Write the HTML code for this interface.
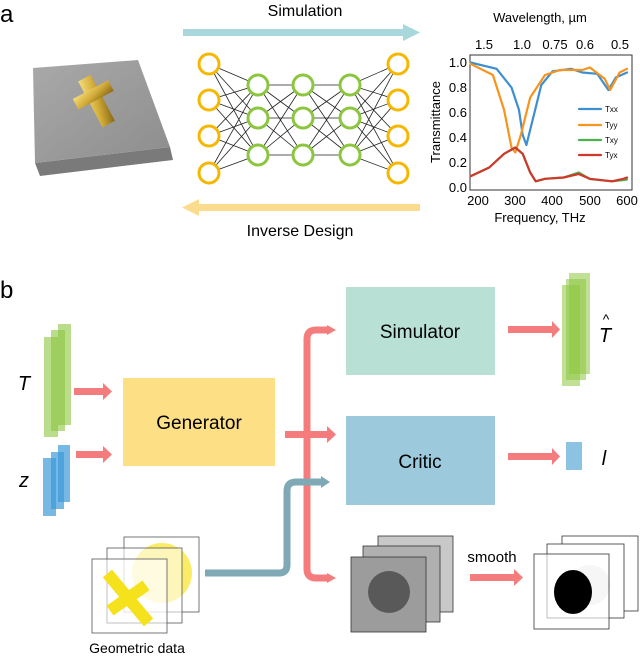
<!DOCTYPE html>
<html><head><meta charset="utf-8"><style>
html,body{margin:0;padding:0;background:#fff;}
body{width:640px;height:659px;overflow:hidden;}
svg text{font-family:"Liberation Sans",sans-serif;}
</style></head><body>
<svg width="640" height="659" viewBox="0 0 640 659" xmlns="http://www.w3.org/2000/svg">
<defs>
<linearGradient id="gold" x1="0" y1="0" x2="1" y2="1"><stop offset="0" stop-color="#f4dc7a"/><stop offset="0.5" stop-color="#d4ad3a"/><stop offset="1" stop-color="#8a6a15"/></linearGradient>
<linearGradient id="top" x1="0" y1="0" x2="1" y2="1"><stop offset="0" stop-color="#a9a9a9"/><stop offset="1" stop-color="#8d8d8d"/></linearGradient>
</defs>
<!-- a -->
<text x="0" y="22" font-size="24">a</text>
<polygon points="35,163 170,147 173,160 40,176" fill="#7a7a7a"/>
<polygon points="33,68 138,60 170,147 35,163" fill="url(#top)"/>
<g transform="translate(97,102) rotate(-28)">
<rect x="-7" y="-27" width="14" height="52" fill="url(#gold)"/>
<rect x="-20" y="-14" width="40" height="12" fill="url(#gold)"/>
</g>
<text x="305" y="16" font-size="16" text-anchor="middle">Simulation</text>
<rect x="183" y="29" width="222" height="7" fill="#a8d8dc"/>
<polygon points="403,24 420,32.5 403,41" fill="#a8d8dc"/>
<rect x="198" y="204" width="222" height="7" fill="#fbdc8e"/>
<polygon points="199,199 182,207.5 199,216" fill="#fbdc8e"/>
<text x="300" y="236" font-size="16" text-anchor="middle">Inverse Design</text>
<g stroke="#222" stroke-width="0.8">
<path d="M209,64L258,85M209,64L258,118M209,64L258,155M209,100L258,85M209,100L258,118M209,100L258,155M209,136L258,85M209,136L258,118M209,136L258,155M209,173L258,85M209,173L258,118M209,173L258,155"/>
<path d="M258,85L303,85M258,85L303,118M258,85L303,155M258,118L303,85M258,118L303,118M258,118L303,155M258,155L303,85M258,155L303,118M258,155L303,155"/>
<path d="M303,85L350,85M303,85L350,118M303,85L350,155M303,118L350,85M303,118L350,118M303,118L350,155M303,155L350,85M303,155L350,118M303,155L350,155"/>
<path d="M398,64L350,85M398,64L350,118M398,64L350,155M398,100L350,85M398,100L350,118M398,100L350,155M398,136L350,85M398,136L350,118M398,136L350,155M398,173L350,85M398,173L350,118M398,173L350,155"/>
</g>
<g fill="#fff" stroke="#f5b800" stroke-width="3">
<circle cx="209" cy="64" r="10"/><circle cx="209" cy="100" r="10"/><circle cx="209" cy="136" r="10"/><circle cx="209" cy="173" r="10"/>
<circle cx="398" cy="64" r="10"/><circle cx="398" cy="100" r="10"/><circle cx="398" cy="136" r="10"/><circle cx="398" cy="173" r="10"/>
</g>
<g fill="#fff" stroke="#8cc63f" stroke-width="3">
<circle cx="258" cy="85" r="10"/><circle cx="258" cy="118" r="10"/><circle cx="258" cy="155" r="10"/>
<circle cx="303" cy="85" r="10"/><circle cx="303" cy="118" r="10"/><circle cx="303" cy="155" r="10"/>
<circle cx="350" cy="85" r="10"/><circle cx="350" cy="118" r="10"/><circle cx="350" cy="155" r="10"/>
</g>
<!-- plot -->
<rect x="470" y="55" width="162" height="135" fill="none" stroke="#333" stroke-width="1"/>
<text x="540" y="22" font-size="13" text-anchor="middle">Wavelength, µm</text>
<g font-size="13" text-anchor="middle">
<text x="484" y="49">1.5</text><text x="522" y="49">1.0</text><text x="555" y="49">0.75</text><text x="585" y="49">0.6</text><text x="620" y="49">0.5</text>
<text x="478" y="205">200</text><text x="515" y="205">300</text><text x="552" y="205">400</text><text x="590" y="205">500</text><text x="627" y="205">600</text>
</g>
<text x="540" y="222" font-size="13" text-anchor="middle">Frequency, THz</text>
<g font-size="13" text-anchor="end">
<text x="467" y="67">1.0</text><text x="467" y="92">0.8</text><text x="467" y="117">0.6</text><text x="467" y="142">0.4</text><text x="467" y="167">0.2</text><text x="467" y="192">0.0</text>
</g>
<text transform="translate(440,122) rotate(-90)" font-size="13" text-anchor="middle">Transmittance</text>
<g fill="none" stroke-width="2.2" stroke-linejoin="round" stroke-linecap="round">
<polyline stroke="#3d8fcf" points="470.5,62.5 496.6,68.8 511.5,87.5 519,110 522.7,135 526.4,145 532,122.5 541.3,85 552.5,71.3 571.1,68.8 582.3,72.5 597.2,73.8 608.4,90 615.8,77.5 627,72.5"/>
<polyline stroke="#f7941d" points="470.5,63.8 492.9,75 504.1,110 511.5,147.5 515.3,152.5 520.8,135 530.2,97.5 545,75 560,70 582.3,70 589.8,67.5 604.7,78.8 610.2,90 619.6,72.5 627,68.8"/>
<polyline stroke="#4caf50" points="470.5,176.3 489.2,167.5 504.1,153.8 515.3,147.5 522.7,153.8 530.2,172.5 535.7,181.3 545,178.8 563.7,177.5 578.6,172.5 589.8,179 612.1,181.3 623.3,180 627,179.5"/>
<polyline stroke="#d0382b" points="470.5,176.3 489.2,167.5 504.1,153.8 515.3,147.5 522.7,153.8 530.2,172.5 535.7,181.3 545,178.8 563.7,177.5 578.6,174 589.8,178.8 612.1,181.3 623.3,178.8 627,177.5"/>
<line x1="579" y1="109" x2="601" y2="109" stroke="#3d8fcf"/>
<line x1="579" y1="125" x2="601" y2="125" stroke="#f7941d"/>
<line x1="579" y1="140" x2="601" y2="140" stroke="#4caf50"/>
<line x1="579" y1="155" x2="601" y2="155" stroke="#d0382b"/>
</g>
<g font-size="8"><text x="605" y="112">Txx</text><text x="605" y="128">Tyy</text><text x="605" y="143">Txy</text><text x="605" y="158">Tyx</text></g>
<!-- b -->
<text x="0" y="298" font-size="24">b</text>
<rect x="346" y="287" width="149" height="88" fill="#b8e0d4"/>
<text x="420" y="338" font-size="19" text-anchor="middle">Simulator</text>
<rect x="346" y="416" width="149" height="89" fill="#9ccadc"/>
<text x="420" y="468" font-size="19" text-anchor="middle">Critic</text>
<rect x="123" y="378" width="152" height="88" fill="#fddf86"/>
<text x="199" y="429" font-size="19" text-anchor="middle">Generator</text>
<!-- T bars -->
<rect x="58" y="324" width="13" height="101" fill="#8cc63f" opacity="0.6"/>
<rect x="51" y="330" width="14" height="101" fill="#8cc63f" opacity="0.6"/>
<rect x="44" y="337" width="14" height="100" fill="#8cc63f" opacity="0.6"/>
<text x="24" y="390" font-size="20" font-style="italic" font-family="Liberation Serif,serif" text-anchor="middle">T</text>
<rect x="58" y="445" width="12" height="57" fill="#3d9ad9" opacity="0.7"/>
<rect x="51" y="452" width="13" height="57" fill="#3d9ad9" opacity="0.7"/>
<rect x="43" y="458" width="13" height="58" fill="#3d9ad9" opacity="0.7"/>
<text x="24" y="487" font-size="20" font-style="italic" font-family="Liberation Serif,serif" text-anchor="middle">z</text>
<g fill="#f47c7c">
<rect x="74" y="388" width="30" height="7"/><polygon points="103,383 112,391.5 103,400"/>
<rect x="76" y="451" width="28" height="7"/><polygon points="103,446 112,454.5 103,463"/>
<rect x="285" y="431" width="43" height="7"/><polygon points="327,426 336,434.5 327,443"/>
<rect x="508" y="326" width="45" height="7"/><polygon points="552,321 560,329.5 552,338"/>
<rect x="508" y="453" width="45" height="7"/><polygon points="552,448 560,456.5 552,465"/>
<rect x="470" y="574" width="45" height="7"/><polygon points="514,569 523,577.5 514,586"/>
<polygon points="327,325 336,330 327,335"/><polygon points="327,573 336,578 327,583"/>
</g>
<path d="M328,330 H316 Q307,330 307,339 V569 Q307,578 316,578 H328" fill="none" stroke="#f47c7c" stroke-width="7"/>
<path d="M205,573 H279 Q287,573 287,565 V491 Q287,482 296,482 H322" fill="none" stroke="#7faab5" stroke-width="7"/>
<polygon points="321,476 330,482 321,488" fill="#7faab5"/>
<rect x="569" y="273" width="21" height="101" fill="#8cc63f" opacity="0.55"/>
<rect x="566" y="279" width="20" height="101" fill="#8cc63f" opacity="0.55"/>
<rect x="562" y="285" width="18" height="101" fill="#8cc63f" opacity="0.55"/>
<text x="605" y="342" font-size="20" font-style="italic" font-family="Liberation Serif,serif" text-anchor="middle">T</text>
<text x="606" y="324" font-size="14" font-family="Liberation Serif,serif" text-anchor="middle">^</text>
<rect x="566" y="442" width="16" height="28" fill="#8cc3e3"/>
<text x="604" y="465" font-size="20" font-style="italic" font-family="Liberation Serif,serif" text-anchor="middle">l</text>
<!-- geometric -->
<rect x="124" y="537" width="75" height="75" fill="#fff" stroke="#555" stroke-width="0.8"/>
<circle cx="162" cy="573" r="30" fill="#fae94e" opacity="0.85"/>
<rect x="107" y="548" width="75" height="75" fill="#fff" fill-opacity="0.55" stroke="#555" stroke-width="0.8"/>
<rect x="92" y="559" width="75" height="74" fill="#fff" fill-opacity="0.55" stroke="#555" stroke-width="0.8"/>
<g transform="translate(128,598)"><rect x="-6" y="-32" width="12" height="64" fill="#f5e21c" transform="rotate(-40)"/><rect x="-6" y="-22" width="12" height="44" fill="#f5e21c" transform="rotate(55)"/></g>
<text x="137" y="653" font-size="14" text-anchor="middle">Geometric data</text>
<rect x="378" y="536" width="75" height="76" fill="#c8c8c8" stroke="#333" stroke-width="0.8"/>
<rect x="363" y="546" width="77" height="76" fill="#b0b0b0" stroke="#333" stroke-width="0.8"/>
<rect x="351" y="557" width="75" height="75" fill="#9c9c9c" stroke="#333" stroke-width="0.8"/>
<circle cx="389" cy="592" r="21" fill="#595959"/>
<text x="492" y="562" font-size="15" text-anchor="middle">smooth</text>
<rect x="562" y="536" width="76" height="75" fill="#fff" stroke="#333" stroke-width="0.8"/>
<rect x="547" y="544" width="77" height="74" fill="#fff" stroke="#333" stroke-width="0.8"/>
<circle cx="590" cy="585" r="20" fill="#e8e8e8"/>
<rect x="534" y="554" width="75" height="75" fill="#fff" fill-opacity="0.6" stroke="#333" stroke-width="0.8"/>
<ellipse cx="573" cy="592" rx="19" ry="22" fill="#000"/>
</svg>
</body></html>
